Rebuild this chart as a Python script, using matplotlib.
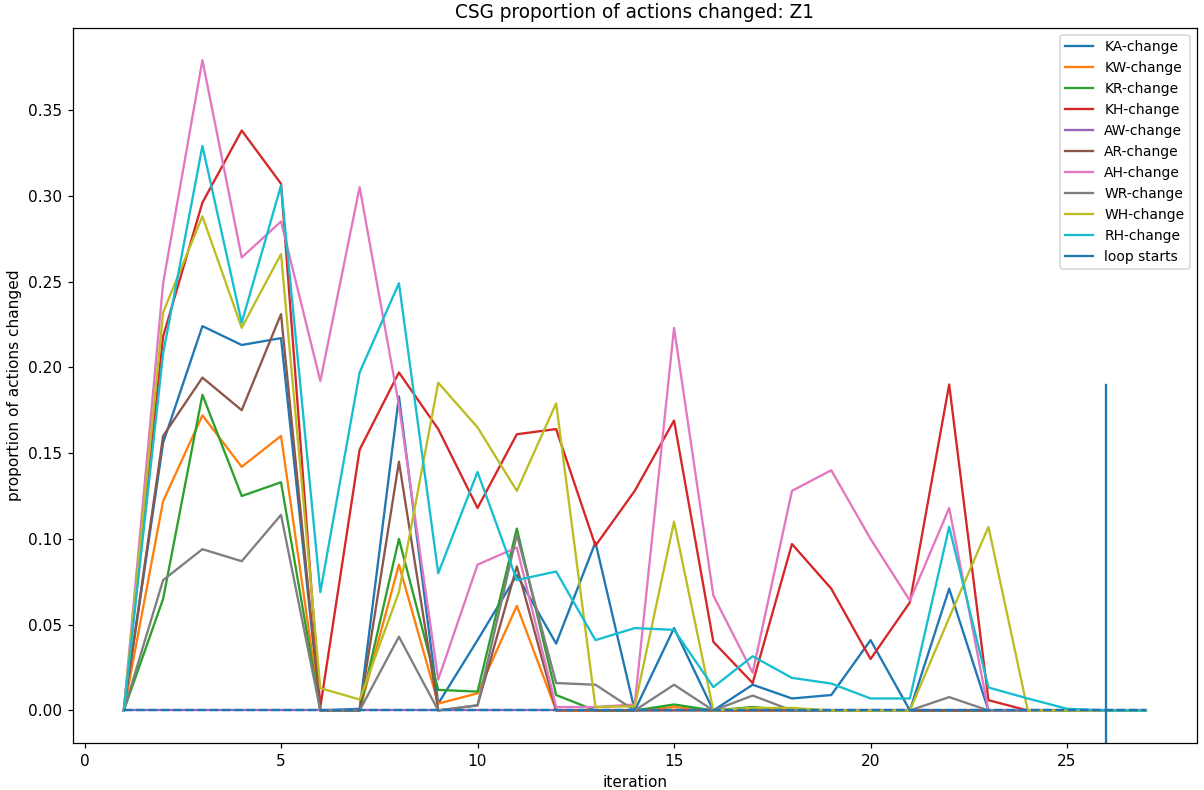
import numpy as np
from matplotlib import pyplot as plt

# iterations 1..27
iterations = list(range(1, 28))

# proportion of actions changed per pair
ka = [0, 0.156, 0.224, 0.213, 0.217, 0, 0.001, 0.183, 0.004, 0.041, 0.079, 0.039, 0.098, 0,
      0.048, 0, 0.015, 0.007, 0.009, 0.041, 0, 0.071, 0, 0, 0, 0, 0]
kw = [0, 0.122, 0.172, 0.142, 0.160, 0, 0, 0.085, 0.004, 0.010, 0.061, 0, 0, 0,
      0.002, 0, 0, 0, 0, 0, 0, 0, 0, 0, 0, 0, 0]
kr = [0, 0.065, 0.184, 0.125, 0.133, 0, 0, 0.100, 0.012, 0.011, 0.106, 0.009, 0, 0,
      0.0035, 0, 0.002, 0, 0, 0, 0, 0, 0, 0, 0, 0, 0]
kh = [0, 0.218, 0.296, 0.338, 0.307, 0.002, 0.152, 0.197, 0.164, 0.118, 0.161, 0.164, 0.096, 0.128,
      0.169, 0.040, 0.016, 0.097, 0.071, 0.030, 0.063, 0.190, 0.006, 0, 0, 0, 0]
aw = [0] * 27
ar = [0, 0.160, 0.194, 0.175, 0.231, 0, 0, 0.145, 0, 0.003, 0.084, 0, 0, 0,
      0, 0, 0, 0, 0, 0, 0, 0, 0, 0, 0, 0, 0]
ah = [0, 0.249, 0.379, 0.264, 0.285, 0.192, 0.305, 0.178, 0.018, 0.085, 0.095, 0.002, 0.002, 0.0035,
      0.223, 0.067, 0.022, 0.128, 0.140, 0.100, 0.064, 0.118, 0, 0, 0, 0, 0]
wr = [0, 0.076, 0.094, 0.087, 0.114, 0, 0, 0.043, 0, 0.003, 0.1025, 0.016, 0.015, 0,
      0.015, 0, 0.0087, 0, 0, 0, 0, 0.0078, 0, 0, 0, 0, 0]
wh = [0, 0.232, 0.288, 0.223, 0.266, 0.013, 0.0064, 0.069, 0.191, 0.165, 0.128, 0.179, 0.002, 0.0025,
      0.110, 0, 0.0015, 0.0015, 0, 0, 0, 0.054, 0.107, 0, 0, 0, 0]
rh = [0, 0.208, 0.329, 0.226, 0.306, 0.069, 0.197, 0.249, 0.080, 0.139, 0.076, 0.081, 0.041, 0.048,
      0.047, 0.0136, 0.0316, 0.019, 0.0157, 0.007, 0.007, 0.107, 0.0134, 0.007, 0.001, 0, 0]

series = [ka, kw, kr, kh, aw, ar, ah, wr, wh, rh]
labels = ['KA-change', 'KW-change', 'KR-change', 'KH-change', 'AW-change',
          'AR-change', 'AH-change', 'WR-change', 'WH-change', 'RH-change']

loop_start = 26

# slightly higher dpi so text and lines come out as large as in the original
plt.figure(figsize=(1204 / 111, 790 / 111), dpi=111)

for values, label in zip(series, labels):
    plt.plot(iterations, values, label=label)

# zero baseline
plt.plot(iterations, [0] * len(iterations), '--')

# where the loop starts
plt.axvline(loop_start, ymax=0.5, label='loop starts')

plt.legend(fontsize=9)
plt.title('CSG proportion of actions changed: Z1')
plt.xlabel('iteration')
plt.ylabel('proportion of actions changed')

plt.subplots_adjust(left=0.0604, right=0.994, top=0.965, bottom=0.0595)
plt.savefig('out.png', dpi=111)
